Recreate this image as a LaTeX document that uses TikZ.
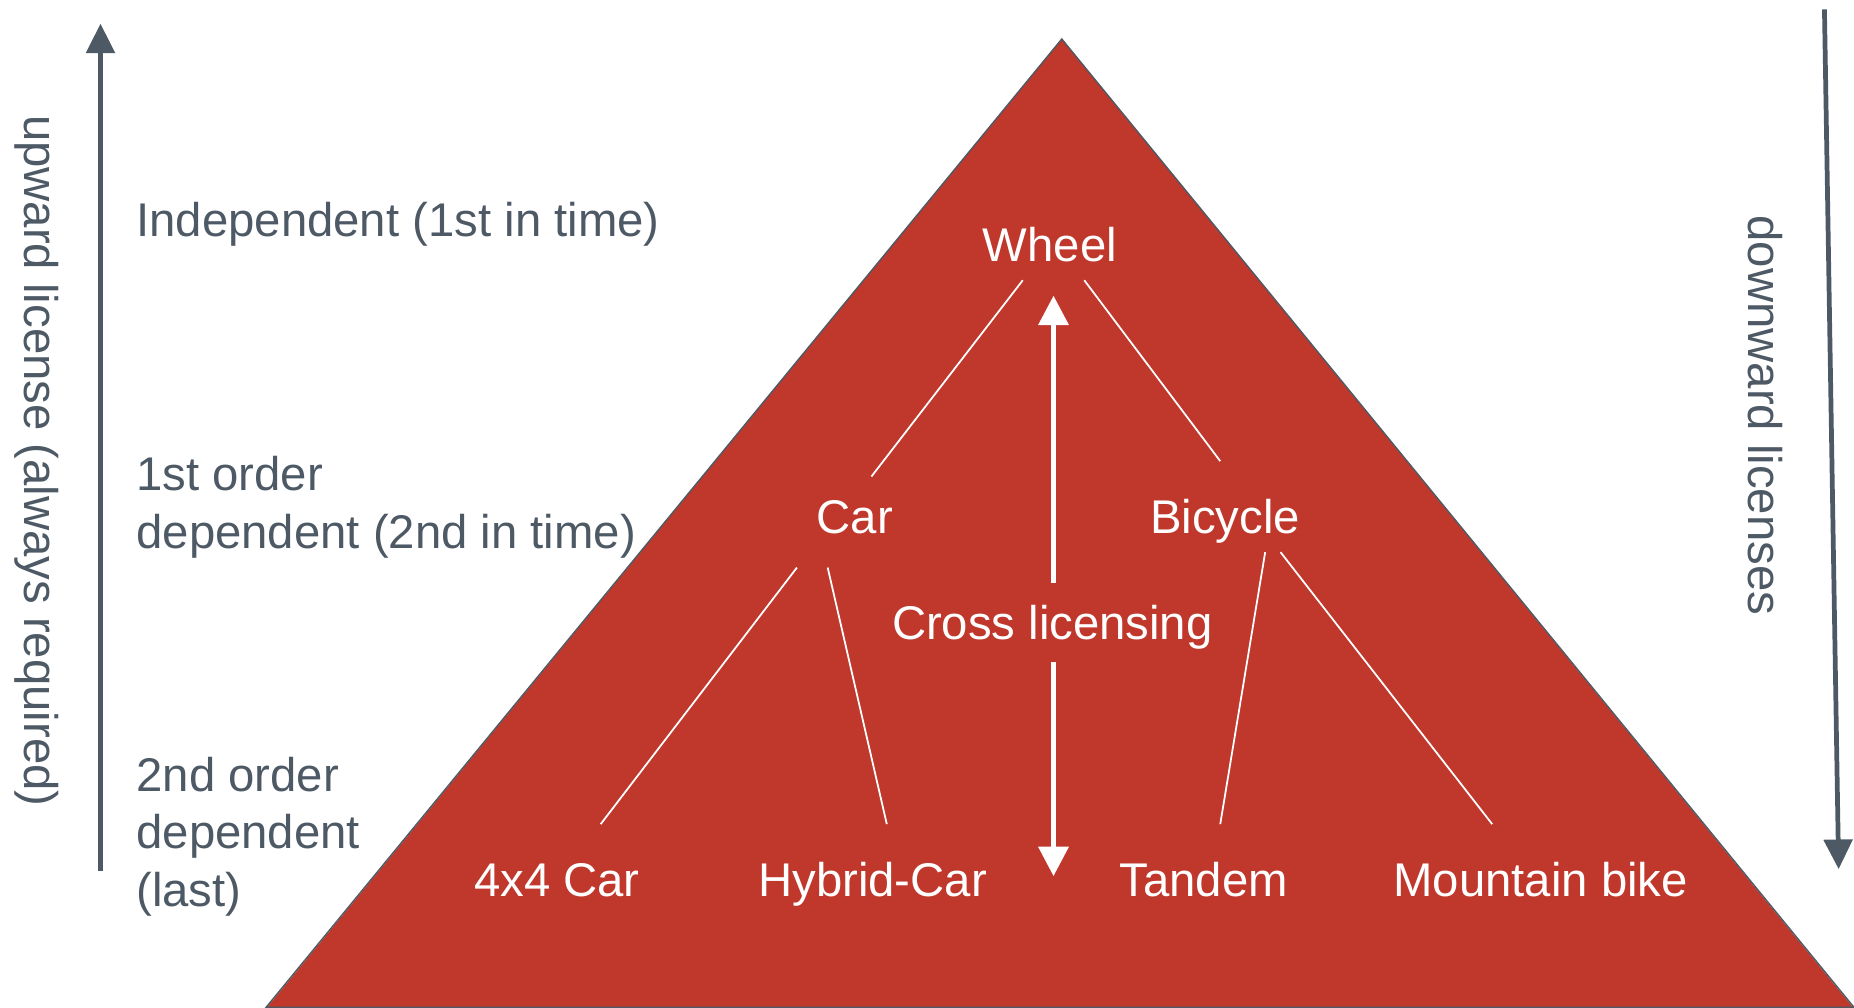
\documentclass[tikz,border=0pt]{standalone}
\usepackage{fontspec}
\setmainfont{Liberation Sans}
\usetikzlibrary{arrows.meta}
\definecolor{pyred}{HTML}{C0372C}
\definecolor{slate}{HTML}{4D5965}
\tikzset{
  whitelbl/.style={text=white, font=\fontsize{20}{24}\selectfont, inner sep=0pt, anchor=base},
  greylbl/.style={text=slate, font=\fontsize{20}{24.5}\selectfont, inner sep=0pt, anchor=base west, align=left},
  sidelbl/.style={text=slate, font=\fontsize{20}{24}\selectfont, inner sep=0pt, anchor=base west, rotate=-90},
  thinlink/.style={white, line width=0.75pt},
  bigarrow/.style={slate, line width=2pt, -{Triangle[length=12.5pt,width=12pt]}},
  crossarrow/.style={white, line width=2.2pt, -{Triangle[length=12.5pt,width=12.5pt]}}
}
\begin{document}
\begin{tikzpicture}[x=0.5pt,y=-0.5pt]
\useasboundingbox (0,0) rectangle (1568,852);
% pyramid
\fill[pyred] (898,33) -- (225,853) -- (1568,853) -- cycle;
\draw[slate, line width=0.6pt] (898,33) -- (225,852) -- (1568,852) -- cycle;

% side arrows
\coordinate (ub) at (85,737);
\coordinate (ut) at (85,20);
\draw[bigarrow] (ub) -- (ut);
\coordinate (dt) at (1543,8);
\coordinate (db) at (1555,735);
\draw[bigarrow] (dt) -- (db);

\node[sidelbl] (uplbl) at (21,97) {upward license (always required)};
\node[sidelbl] (downlbl) at (1479,182) {downward licenses};

% left level labels (anchored at the baseline of the last line)
\node[greylbl] (lvl0) at (115,200) {Independent (1st in time)};
\node[greylbl] (lvl1) at (115,464) {1st order\\dependent (2nd in time)};
\node[greylbl] (lvl2) at (115,767) {2nd order\\dependent\\(last)};

% tree labels
\node[whitelbl] (wheel) at (888,221) {Wheel};
\node[whitelbl] (car) at (723,451) {Car};
\node[whitelbl] (bicycle) at (1036,451) {Bicycle};
\node[whitelbl] (cross) at (890,541) {Cross licensing};
\node[whitelbl] (fourx) at (471,758) {4x4 Car};
\node[whitelbl] (hybrid) at (738,758) {Hybrid-Car};
\node[whitelbl] (tandem) at (1018,758) {Tandem};
\node[whitelbl] (mtb) at (1303,758) {Mountain bike};

% link end points
\coordinate (w1) at (865,237);  \coordinate (c0) at (737,403);
\coordinate (w2) at (917,237);  \coordinate (b0) at (1032,390);
\coordinate (c1) at (674,480);  \coordinate (f0) at (508,697);
\coordinate (c2) at (700,480);  \coordinate (h0) at (750,697);
\coordinate (b1) at (1070,467); \coordinate (t0) at (1032,697);
\coordinate (b2) at (1083,467); \coordinate (m0) at (1262,697);
\draw[thinlink] (w1) -- (c0);
\draw[thinlink] (w2) -- (b0);
\draw[thinlink] (c1) -- (f0);
\draw[thinlink] (c2) -- (h0);
\draw[thinlink] (b1) -- (t0);
\draw[thinlink] (b2) -- (m0);

% cross licensing arrows
\coordinate (xu0) at (891,493); \coordinate (xu1) at (891,250);
\coordinate (xd0) at (891,560); \coordinate (xd1) at (891,741);
\draw[crossarrow] (xu0) -- (xu1);
\draw[crossarrow] (xd0) -- (xd1);
\end{tikzpicture}
\end{document}
